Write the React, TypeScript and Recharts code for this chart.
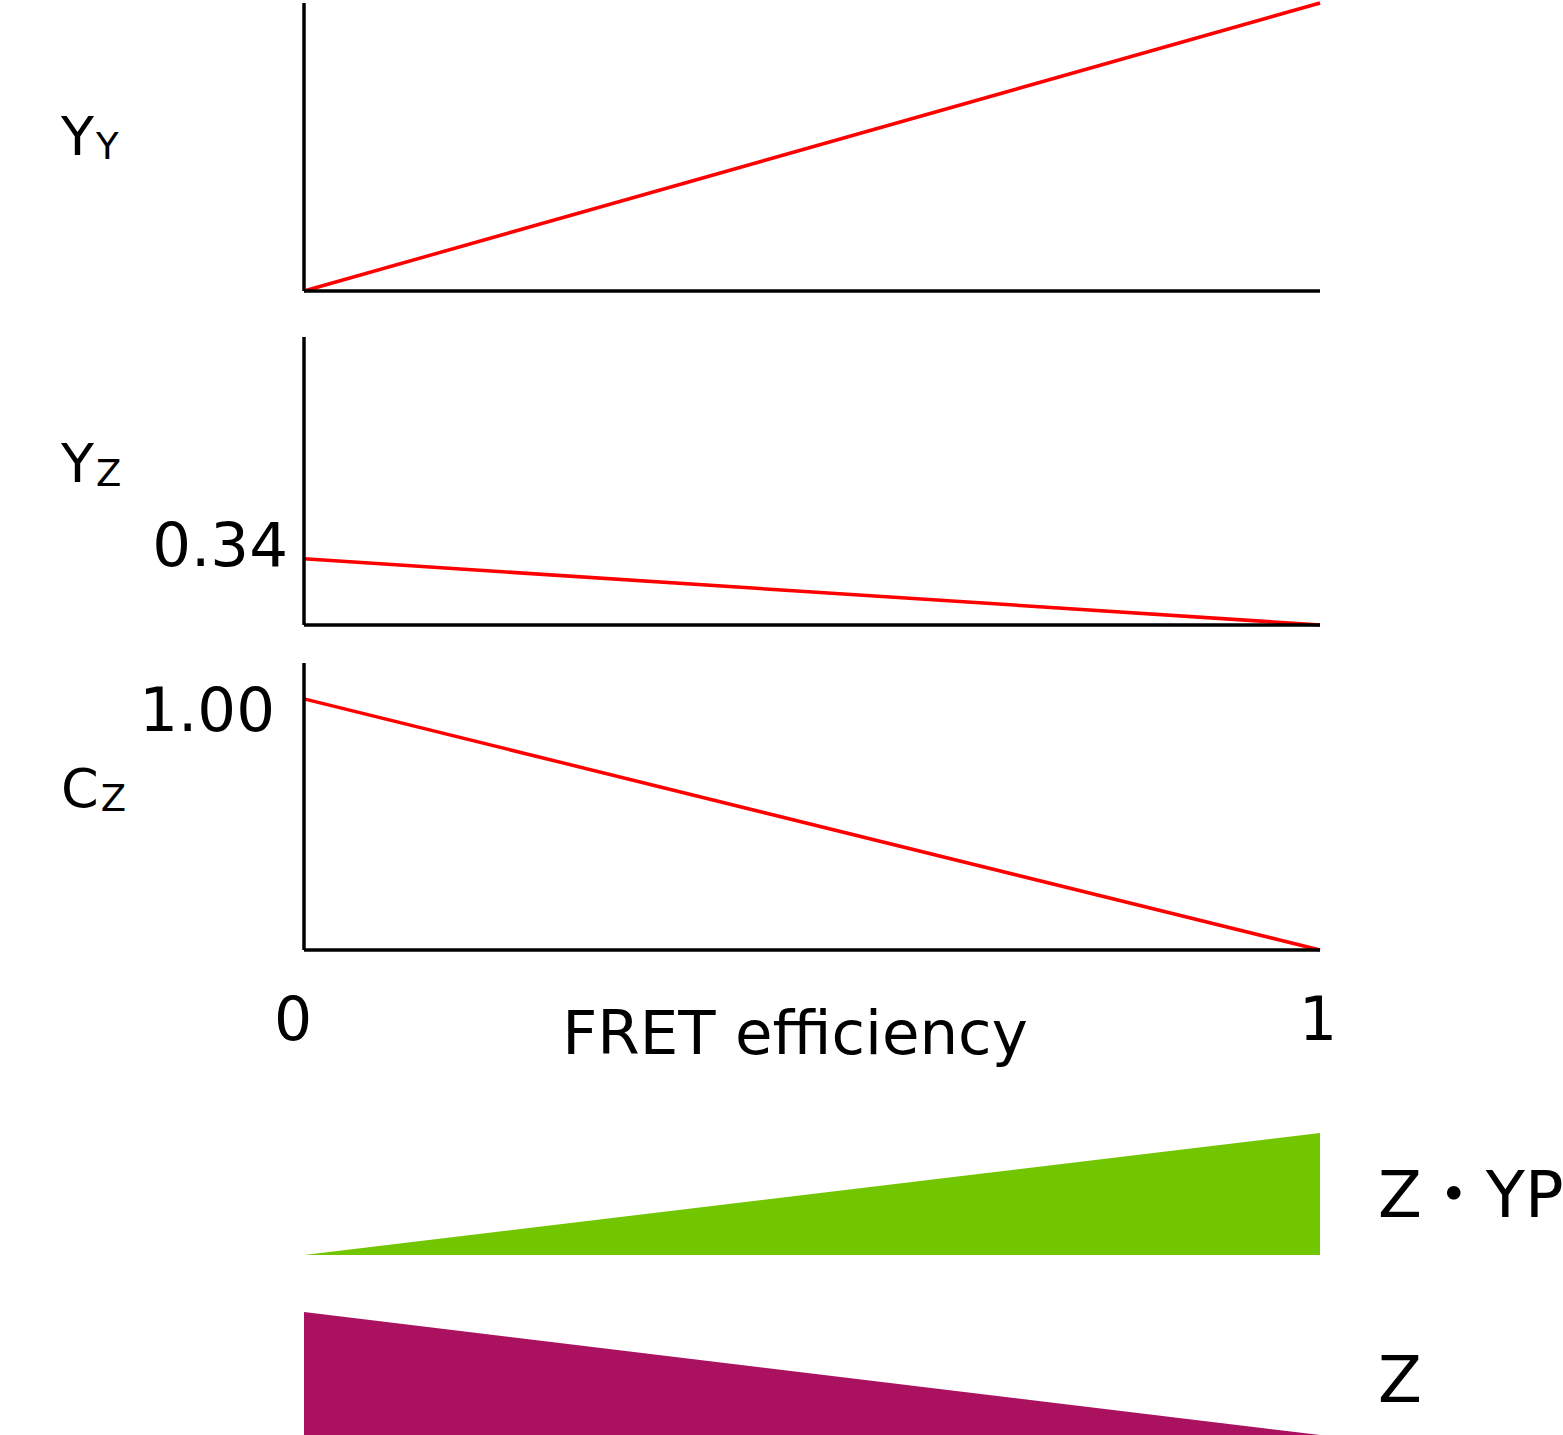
import {
  LineChart,
  Line,
  AreaChart,
  Area,
  XAxis,
  YAxis,
  Label,
} from "recharts";

// FRET efficiency runs from 0 to 1
const fretEfficiency = [0, 1];
const yyValues = [0, 1];
const yzValues = [0.34, 0];
const czValues = [1.0, 0];
const zypValues = [0, 1];
const zValues = [1, 0];

const yzTicks = [0.34];
const czTicks = [1.0];
const xTicks = [0, 1];

const yyData = fretEfficiency.map((e, i) => ({ e, v: yyValues[i] }));
const yzData = fretEfficiency.map((e, i) => ({ e, v: yzValues[i] }));
const czData = fretEfficiency.map((e, i) => ({ e, v: czValues[i] }));
const zypData = fretEfficiency.map((e, i) => ({ e, v: zypValues[i] }));
const zData = fretEfficiency.map((e, i) => ({ e, v: zValues[i] }));

const FONT = "'DejaVu Sans', 'Noto Sans CJK JP', sans-serif";
const AXIS = { stroke: "#000", strokeWidth: 3.5 };
const RED = "#ff0000";
const W = 1563;

// left-hand caption like Y with subscript Y
function SubCaption({ viewBox, main, sub, baseline }: any) {
  const y = viewBox.y + baseline;
  return (
    <text x={61} y={y} fontFamily={FONT} fill="#000">
      <tspan fontSize={54}>{main}</tspan>
      <tspan fontSize={37} dx={2} dy={4}>
        {sub}
      </tspan>
    </text>
  );
}

function ValueTick({ x, y, payload, dy }: any) {
  return (
    <text
      x={x}
      y={y + dy}
      textAnchor="end"
      fontFamily={FONT}
      fontSize={61}
      fill="#000"
    >
      {payload.value.toFixed(2)}
    </text>
  );
}

function XTick({ x, y, payload }: any) {
  const dx = payload.value === 0 ? -11 : -2;
  return (
    <text
      x={x + dx}
      y={y + 90}
      textAnchor="middle"
      fontFamily={FONT}
      fontSize={60}
      fill="#000"
    >
      {payload.value}
    </text>
  );
}

function RightCaption({ viewBox, text, baseline }: any) {
  return (
    <text
      x={viewBox.x + 58}
      y={viewBox.y + baseline}
      fontFamily={FONT}
      fontSize={64}
      fill="#000"
    >
      {text}
    </text>
  );
}

export default function App() {
  return (
    <div
      style={{
        position: "absolute",
        left: 0,
        top: 0,
        width: W,
        height: 1435,
        background: "#fff",
        overflow: "hidden",
      }}
    >
      {/* Y_Y panel */}
      <div style={{ position: "absolute", left: 0, top: 0 }}>
        <LineChart
          width={W}
          height={300}
          data={yyData}
          margin={{ top: 3, right: 243, left: 0, bottom: 8 }}
        >
          <XAxis
            dataKey="e"
            type="number"
            domain={[0, 1]}
            height={1}
            tick={false}
            tickLine={false}
            axisLine={AXIS}
          />
          <YAxis
            width={304}
            domain={[0, 1]}
            tick={false}
            tickLine={false}
            axisLine={AXIS}
          >
            <Label
              content={(p: any) => (
                <SubCaption viewBox={p.viewBox} main="Y" sub="Y" baseline={152} />
              )}
            />
          </YAxis>
          <Line
            dataKey="v"
            type="linear"
            stroke={RED}
            strokeWidth={3.5}
            dot={false}
            isAnimationActive={false}
          />
        </LineChart>
      </div>

      {/* Y_Z panel */}
      <div style={{ position: "absolute", left: 0, top: 330 }}>
        <LineChart
          width={W}
          height={300}
          data={yzData}
          margin={{ top: 7, right: 243, left: 0, bottom: 4 }}
        >
          <XAxis
            dataKey="e"
            type="number"
            domain={[0, 1]}
            height={1}
            tick={false}
            tickLine={false}
            axisLine={AXIS}
          />
          <YAxis
            width={304}
            domain={[0, 1.48]}
            ticks={yzTicks}
            tickLine={false}
            tickSize={0}
            tickMargin={16}
            tick={<ValueTick dy={7} />}
            axisLine={AXIS}
          >
            <Label
              content={(p: any) => (
                <SubCaption viewBox={p.viewBox} main="Y" sub="Z" baseline={145} />
              )}
            />
          </YAxis>
          <Line
            dataKey="v"
            type="linear"
            stroke={RED}
            strokeWidth={3.5}
            dot={false}
            isAnimationActive={false}
          />
        </LineChart>
      </div>

      {/* C_Z panel with FRET axis */}
      <div style={{ position: "absolute", left: 0, top: 650 }}>
        <LineChart
          width={W}
          height={420}
          data={czData}
          margin={{ top: 13, right: 243, left: 0, bottom: 0 }}
        >
          <XAxis
            dataKey="e"
            type="number"
            domain={[0, 1]}
            ticks={xTicks}
            height={120}
            tickLine={false}
            tickSize={0}
            tickMargin={0}
            tick={<XTick />}
            axisLine={AXIS}
          >
            <Label
              content={(p: any) => (
                <text
                  x={p.viewBox.x + p.viewBox.width / 2 - 17}
                  y={p.viewBox.y + 104}
                  textAnchor="middle"
                  fontFamily={FONT}
                  fontSize={61}
                  fill="#000"
                >
                  FRET efficiency
                </text>
              )}
            />
          </XAxis>
          <YAxis
            width={304}
            domain={[0, 1.143]}
            ticks={czTicks}
            tickLine={false}
            tickSize={0}
            tickMargin={29}
            tick={<ValueTick dy={32} />}
            axisLine={AXIS}
          >
            <Label
              content={(p: any) => (
                <SubCaption viewBox={p.viewBox} main="C" sub="Z" baseline={144} />
              )}
            />
          </YAxis>
          <Line
            dataKey="v"
            type="linear"
            stroke={RED}
            strokeWidth={3.5}
            dot={false}
            isAnimationActive={false}
          />
        </LineChart>
      </div>

      {/* Z·YP wedge */}
      <div style={{ position: "absolute", left: 0, top: 1120 }}>
        <AreaChart
          width={W}
          height={150}
          data={zypData}
          margin={{ top: 13, right: 0, left: 304, bottom: 15 }}
        >
          <XAxis dataKey="e" type="number" domain={[0, 1]} hide />
          <YAxis yAxisId="l" domain={[0, 1]} hide />
          <YAxis
            yAxisId="r"
            orientation="right"
            width={243}
            axisLine={false}
            tickLine={false}
            tick={false}
          >
            <Label
              content={(p: any) => (
                <RightCaption viewBox={p.viewBox} text="Z・YP" baseline={84} />
              )}
            />
          </YAxis>
          <Area
            yAxisId="l"
            dataKey="v"
            type="linear"
            fill="#72c600"
            fillOpacity={1}
            stroke="none"
            isAnimationActive={false}
          />
        </AreaChart>
      </div>

      {/* Z wedge */}
      <div style={{ position: "absolute", left: 0, top: 1300 }}>
        <AreaChart
          width={W}
          height={135}
          data={zData}
          margin={{ top: 12, right: 0, left: 304, bottom: 0 }}
        >
          <XAxis dataKey="e" type="number" domain={[0, 1]} hide />
          <YAxis yAxisId="l" domain={[0, 1]} hide />
          <YAxis
            yAxisId="r"
            orientation="right"
            width={243}
            axisLine={false}
            tickLine={false}
            tick={false}
          >
            <Label
              content={(p: any) => (
                <RightCaption viewBox={p.viewBox} text="Z" baseline={90} />
              )}
            />
          </YAxis>
          <Area
            yAxisId="l"
            dataKey="v"
            type="linear"
            fill="#aa1260"
            fillOpacity={1}
            stroke="none"
            isAnimationActive={false}
          />
        </AreaChart>
      </div>
    </div>
  );
}
